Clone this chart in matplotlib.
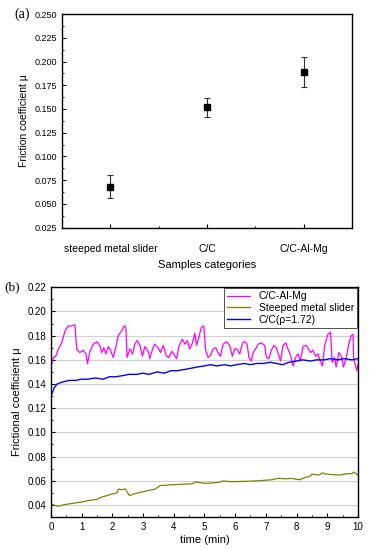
"""
Friction coefficient of the three sample categories (a) and friction curves over time (b)
"""

import numpy as np
import matplotlib
matplotlib.use("Agg")
import matplotlib.pyplot as plt
from matplotlib.ticker import MultipleLocator, FormatStrFormatter

plt.rcParams['font.family'] = ['Liberation Sans', 'DejaVu Sans']

# panel (a)
categories = ['steeped metal slider', 'C/C', 'C/C-Al-Mg']
mean_mu = [0.068, 0.152, 0.189]
err_mu = [0.012, 0.010, 0.016]

# panel (b)
t_alcmg = [0.02, 0.08, 0.16, 0.24, 0.35, 0.46, 0.56, 0.67, 0.78, 0.84, 0.94, 1.05, 1.14, 1.19,
           1.27, 1.38, 1.49, 1.59, 1.65, 1.72, 1.79, 1.87, 1.94, 2.03, 2.11, 2.19, 2.30, 2.38,
           2.44, 2.48, 2.57, 2.66, 2.73, 2.81, 2.90, 2.98, 3.06, 3.17, 3.22, 3.31, 3.38, 3.49,
           3.57, 3.66, 3.76, 3.85, 3.93, 4.00, 4.09, 4.18, 4.28, 4.37, 4.44, 4.52, 4.61, 4.69,
           4.74, 4.83, 4.90, 4.98, 5.04, 5.12, 5.20, 5.28, 5.37, 5.44, 5.52, 5.61, 5.72, 5.82,
           5.91, 5.99, 6.06, 6.15, 6.24, 6.31, 6.39, 6.45, 6.53, 6.58, 6.67, 6.75, 6.85, 6.96,
           7.02, 7.10, 7.18, 7.26, 7.34, 7.43, 7.48, 7.56, 7.65, 7.72, 7.80, 7.89, 7.97, 8.05,
           8.12, 8.21, 8.30, 8.37, 8.45, 8.54, 8.62, 8.70, 8.77, 8.84, 8.92, 9.02, 9.11, 9.16,
           9.24, 9.29, 9.38, 9.46, 9.53, 9.62, 9.71, 9.78, 9.84, 9.86, 9.92, 9.97, 10.0]
mu_alcmg = [0.156, 0.162, 0.163, 0.169, 0.174, 0.184, 0.188, 0.188, 0.189, 0.169, 0.166, 0.168,
            0.165, 0.157, 0.167, 0.173, 0.175, 0.172, 0.166, 0.170, 0.165, 0.171, 0.168, 0.162,
            0.170, 0.180, 0.184, 0.188, 0.187, 0.162, 0.169, 0.165, 0.173, 0.176, 0.172, 0.163,
            0.171, 0.167, 0.161, 0.169, 0.173, 0.170, 0.166, 0.172, 0.163, 0.162, 0.167, 0.165,
            0.161, 0.172, 0.177, 0.173, 0.176, 0.169, 0.174, 0.182, 0.172, 0.180, 0.187, 0.188,
            0.168, 0.162, 0.164, 0.169, 0.170, 0.166, 0.163, 0.173, 0.175, 0.172, 0.163, 0.169,
            0.169, 0.165, 0.174, 0.175, 0.173, 0.162, 0.159, 0.166, 0.169, 0.173, 0.174, 0.172,
            0.162, 0.161, 0.168, 0.172, 0.170, 0.163, 0.159, 0.172, 0.174, 0.169, 0.164, 0.155,
            0.162, 0.165, 0.159, 0.171, 0.172, 0.170, 0.166, 0.168, 0.163, 0.165, 0.159, 0.155,
            0.172, 0.181, 0.183, 0.158, 0.162, 0.154, 0.166, 0.163, 0.154, 0.162, 0.174, 0.180,
            0.181, 0.161, 0.155, 0.151, 0.156]

t_cc = [0.0, 0.05, 0.11, 0.20, 0.30, 0.43, 0.60, 0.80, 1.00, 1.20, 1.45, 1.70, 1.90, 2.10,
        2.35, 2.55, 2.80, 3.00, 3.20, 3.45, 3.70, 3.90, 4.10, 4.35, 4.55, 4.75, 5.00, 5.20,
        5.40, 5.65, 5.85, 6.05, 6.30, 6.50, 6.70, 6.90, 7.15, 7.35, 7.55, 7.75, 8.00, 8.20,
        8.45, 8.65, 8.90, 9.10, 9.35, 9.55, 9.80, 10.0]
mu_cc = [0.130, 0.133, 0.137, 0.140, 0.141, 0.142, 0.143, 0.143, 0.144, 0.144, 0.145, 0.144,
         0.146, 0.146, 0.147, 0.148, 0.148, 0.149, 0.148, 0.150, 0.149, 0.151, 0.151, 0.152,
         0.153, 0.154, 0.155, 0.156, 0.155, 0.156, 0.155, 0.156, 0.157, 0.156, 0.157, 0.157,
         0.158, 0.157, 0.156, 0.158, 0.159, 0.160, 0.159, 0.160, 0.160, 0.161, 0.160, 0.161,
         0.160, 0.161]

t_steel = [0.02, 0.13, 0.24, 0.40, 0.62, 0.95, 1.27, 1.50, 1.60, 1.92, 2.05, 2.15, 2.20, 2.29,
           2.42, 2.50, 2.56, 2.72, 3.05, 3.20, 3.38, 3.50, 3.55, 3.77, 4.20, 4.60, 4.70, 5.03,
           5.47, 5.60, 5.90, 6.33, 6.76, 7.20, 7.40, 7.63, 7.85, 8.10, 8.28, 8.43, 8.50, 8.72,
           8.85, 8.94, 9.20, 9.41, 9.63, 9.80, 9.86, 10.0]
mu_steel = [0.0408, 0.0395, 0.0389, 0.0400, 0.0410, 0.0422, 0.0438, 0.0445, 0.0460, 0.0485,
            0.0493, 0.0500, 0.0530, 0.0526, 0.0532, 0.0500, 0.0477, 0.0493, 0.0512, 0.0520,
            0.0530, 0.0548, 0.0560, 0.0564, 0.0570, 0.0575, 0.0590, 0.0578, 0.0586, 0.0598,
            0.0592, 0.0595, 0.0600, 0.0608, 0.0620, 0.0616, 0.0619, 0.0608, 0.0627, 0.0636,
            0.0655, 0.0647, 0.0665, 0.0655, 0.0650, 0.0647, 0.0658, 0.0658, 0.0672, 0.0647]


fig = plt.figure(figsize=(3.69, 5.5), dpi=100)

# ---- (a) ----
ax1 = fig.add_axes([0.168, 0.586, 0.786, 0.3885])
xpos = np.arange(1, len(categories) + 1)
ax1.errorbar(xpos, mean_mu, yerr=err_mu, fmt='s', color='black', ms=4,
             ecolor='#333333', elinewidth=0.8, capsize=2, capthick=0.8)
ax1.set_xlim(0.5, 3.5)
ax1.set_ylim(0.025, 0.25)
ax1.set_xticks(xpos)
ax1.set_xticklabels(categories, fontsize=7.5)
ax1.xaxis.set_minor_locator(MultipleLocator(0.5))
ax1.yaxis.set_major_locator(MultipleLocator(0.025))
ax1.yaxis.set_minor_locator(MultipleLocator(0.0125))
ax1.yaxis.set_major_formatter(FormatStrFormatter('%.3f'))
ax1.tick_params(axis='y', labelsize=6.5)
ax1.tick_params(which='both', direction='in', top=False, right=False)
ax1.tick_params(which='major', length=3)
ax1.tick_params(which='minor', length=1.5)
ax1.tick_params(axis='x', pad=12)
ax1.set_xlabel('Samples categories', fontsize=8, labelpad=4)
ax1.set_ylabel('Friction coefficient μ', fontsize=7.5)
fig.text(0.04, 0.974, '(a)', family='Liberation Serif', fontsize=10, va='center')

# ---- (b) ----
ax2 = fig.add_axes([0.138, 0.06, 0.832, 0.4176])
ax2.plot(t_alcmg, mu_alcmg, color='#ff00ff', lw=0.9, label='C/C-Al-Mg')
ax2.plot(t_steel, mu_steel, color='#808000', lw=0.9, label='Steeped metal slider')
ax2.plot(t_cc, mu_cc, color='#0000ff', lw=1.0, label='C/C(ρ=1.72)')
ax2.set_xlim(0, 10)
ax2.set_ylim(0.03, 0.22)
ax2.xaxis.set_major_locator(MultipleLocator(1))
ax2.xaxis.set_minor_locator(MultipleLocator(0.5))
ax2.yaxis.set_major_locator(MultipleLocator(0.02))
ax2.yaxis.set_minor_locator(MultipleLocator(0.01))
ax2.yaxis.set_major_formatter(FormatStrFormatter('%.2f'))
ax2.grid(axis='y', which='major', color='#d0d0d0', lw=0.8)
ax2.set_axisbelow(True)
ax2.tick_params(which='both', direction='in', top=False, right=False, labelsize=7)
ax2.tick_params(which='major', length=3)
ax2.tick_params(which='minor', length=1.5)
ax2.set_xlabel('time (min)', fontsize=8, labelpad=2)
ax2.set_ylabel('Frictional coefficient μ', fontsize=8)
leg = ax2.legend(loc='upper right', fontsize=7.5, frameon=True, fancybox=False,
                 borderaxespad=0.1, handlelength=2.2, labelspacing=0.15, borderpad=0.3)
leg.get_frame().set_edgecolor('black')
leg.get_frame().set_linewidth(0.6)
fig.text(0.012, 0.4776, '(b)', family='Liberation Serif', fontsize=9.5, va='center')

for ax in (ax1, ax2):
    for spine in ax.spines.values():
        spine.set_linewidth(1.0)

fig.savefig('out.png', dpi=100)
